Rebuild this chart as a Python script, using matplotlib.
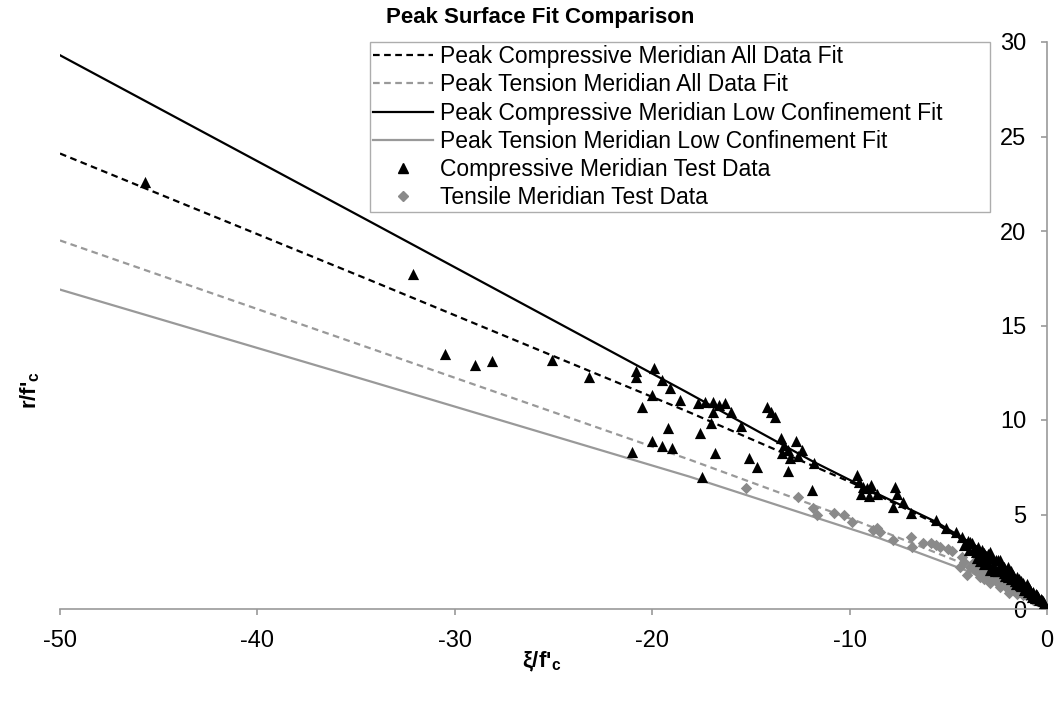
import matplotlib
matplotlib.use("Agg")
import matplotlib.pyplot as plt
from matplotlib.lines import Line2D

plt.rcParams['font.family'] = ['Liberation Sans', 'DejaVu Sans']
plt.rcParams['axes.unicode_minus'] = False

# ---------------------------------------------------------------------------
# Data
# ---------------------------------------------------------------------------
# fit curves, sampled along each line
comp_all_x = [-50, -34.3, -18.1, -9.6, -5.6, -3.0, -1.0, 0.0]
comp_all_y = [24.1, 17.4, 10.4, 6.55, 4.5, 2.8, 1.2, 0.1]

tens_all_x = [-50, -34.3, -18.1, -9.5, -4.0, -2.0, 0.0]
tens_all_y = [19.5, 13.8, 7.9, 4.6, 2.3, 1.25, 0.0]

comp_low_x = [-50, -34.3, -18.3, -11.85, -8.6, -5.6, -3.0, -1.0, 0.0]
comp_low_y = [29.3, 20.5, 11.5, 7.8, 6.1, 4.6, 2.95, 1.25, 0.0]

tens_low_x = [-50, -34.3, -18.1, -8.5, -4.0, -2.0, 0.0]
tens_low_y = [16.9, 12.05, 7.0, 3.75, 2.0, 1.1, 0.0]

# compressive meridian test data
comp_x = [-45.7, -32.1, -30.5, -29.0, -28.1, -25.1, -23.2, -21.0, -20.8, -20.8,
          -20.5, -20.0, -20.0, -19.9, -19.5, -19.5, -19.2, -19.1, -19.0, -18.6,
          -17.7, -17.3, -16.9, -16.6, -16.3, -16.9, -16.0, -17.0, -15.5, -17.6,
          -16.8, -15.1, -14.7, -17.5, -14.2, -14.0, -13.8, -13.5, -13.3, -13.1,
          -12.7, -12.4, -13.4, -13.0, -12.6, -13.1, -11.8, -11.9, -9.6, -9.5,
          -9.1, -8.9, -9.4, -9.0, -8.6, -9.3, -7.7, -7.6, -7.8, -7.3,
          -6.9, -5.6, -5.1, -4.6, -4.3, -3.9, -3.5, -3.2, -2.9, -2.5,
          -2.2, -1.85, -1.5, -1.2, -0.85, -0.5, -0.25, -3.2, -2.9,
          -4.2, -4.0, -3.8, -3.6, -3.4, -3.3, -3.1, -3.0, -2.8, -2.7,
          -2.6, -2.5, -2.4, -2.3, -2.2, -2.1, -2.0, -2.0, -1.9, -1.8,
          -1.8, -1.7, -1.6, -1.45, -1.4, -1.3, -1.3, -1.1, -1.0, -0.95,
          -0.8, -0.7, -0.6, -0.4, -0.3, -0.15,
          -3.7, -3.4, -3.0, -2.75, -2.45, -2.15, -1.75, -1.55, -1.35, -1.15,
          -0.9, -0.75, -0.55, -0.45, -0.2, -3.95, -3.55, -2.65]
comp_y = [22.6, 17.7, 13.5, 12.9, 13.1, 13.2, 12.3, 8.3, 12.6, 12.3,
          10.7, 11.3, 8.9, 12.75, 12.1, 8.6, 9.6, 11.7, 8.5, 11.05,
          10.9, 10.95, 10.95, 10.8, 10.9, 10.4, 10.4, 9.85, 9.7, 9.3,
          8.25, 8.0, 7.5, 7.0, 10.7, 10.4, 10.15, 9.05, 8.7, 8.4,
          8.9, 8.4, 8.25, 8.0, 8.1, 7.3, 7.7, 6.3, 7.1, 6.7,
          6.4, 6.55, 6.1, 6.0, 6.1, 6.45, 6.45, 6.1, 5.4, 5.65,
          5.1, 4.7, 4.3, 4.1, 3.8, 3.55, 3.3, 2.95, 3.0, 2.6,
          2.2, 1.9, 1.7, 1.4, 1.0, 0.75, 0.5, 2.4, 2.05,
          3.4, 3.6, 3.5, 3.0, 2.8, 3.1, 2.7, 2.9, 2.7, 2.2,
          2.6, 2.0, 2.6, 2.2, 1.9, 2.0, 1.7, 2.2, 1.9, 1.6,
          2.0, 1.8, 1.5, 1.35, 1.6, 1.2, 1.5, 1.1, 1.3, 0.9,
          0.8, 0.9, 0.6, 0.5, 0.55, 0.3,
          3.2, 2.55, 2.45, 2.35, 2.2, 1.75, 1.75, 1.3, 1.25, 1.0,
          1.1, 0.65, 0.8, 0.65, 0.4, 3.1, 2.7, 2.0]

# tensile meridian test data
tens_x = [-15.25, -12.6, -11.85, -11.65, -10.8, -10.3, -9.9, -8.6, -8.8, -8.45,
          -7.8, -6.9, -6.85, -6.3, -5.9, -5.6, -5.4, -4.8, -4.3, -5.0,
          -4.4, -4.05, -3.9, -3.7, -3.55, -3.4, -3.3, -3.1, -2.9, -2.8,
          -2.7, -2.6, -2.4, -2.3, -2.2, -2.05, -1.95, -1.8, -1.7, -1.6,
          -1.4, -1.3, -1.2, -1.05, -0.9, -0.8, -0.6, -0.5,
          -3.6, -3.2, -2.5, -2.1, -1.5, -1.15, -0.7, -4.2, -3.0, -1.9]
tens_y = [6.4, 5.95, 5.35, 5.0, 5.1, 4.97, 4.6, 4.3, 4.2, 4.1,
          3.65, 3.8, 3.3, 3.5, 3.5, 3.4, 3.3, 3.05, 2.75, 3.2,
          2.2, 1.8, 2.2, 2.5, 2.4, 1.7, 2.1, 1.9, 1.4, 1.8,
          1.7, 1.5, 1.15, 1.6, 1.55, 1.4, 1.1, 1.3, 1.0, 1.2,
          0.9, 1.05, 0.75, 0.75, 0.85, 0.6, 0.55, 0.4,
          2.0, 1.6, 1.35, 1.15, 0.8, 0.95, 0.45, 2.5, 1.65, 0.85]

labels = ["Peak Compressive Meridian All Data Fit",
          "Peak Tension Meridian All Data Fit",
          "Peak Compressive Meridian Low Confinement Fit",
          "Peak Tension Meridian Low Confinement Fit",
          "Compressive Meridian Test Data",
          "Tensile Meridian Test Data"]

# ---------------------------------------------------------------------------
# Figure
# ---------------------------------------------------------------------------
W, H = 1063, 702
fig = plt.figure(figsize=(W / 100, H / 100), dpi=100)
ax = fig.add_axes([60 / W, 1 - 609 / H, (1047 - 60) / W, (609 - 42) / H])

grey = '#999999'
lw = 1.6
h1, = ax.plot(comp_all_x, comp_all_y, color='black', lw=lw, dashes=(3, 2), label=labels[0])
h2, = ax.plot(tens_all_x, tens_all_y, color=grey, lw=lw, dashes=(3, 2), label=labels[1])
h3, = ax.plot(comp_low_x, comp_low_y, color='black', lw=lw, label=labels[2])
h4, = ax.plot(tens_low_x, tens_low_y, color=grey, lw=lw, label=labels[3])
ax.scatter(tens_x, tens_y, marker='D', s=34, color='#8a8a8a', lw=0, zorder=3)
ax.scatter(comp_x, comp_y, marker='^', s=65, color='black', lw=0, zorder=4)

ax.set_xlim(-50, 0)
ax.set_ylim(0, 30)
ax.set_xticks([-50, -40, -30, -20, -10, 0])
ax.set_yticks([0, 5, 10, 15, 20, 25, 30])

for s in ['top', 'right']:
    ax.spines[s].set_visible(False)
ax.spines['left'].set_position(('data', 0))
for s in ['left', 'bottom']:
    ax.spines[s].set_color(grey)
    ax.spines[s].set_linewidth(1.2)
ax.tick_params(axis='both', direction='out', length=4, width=1.2, color=grey,
               labelsize=17)
ax.tick_params(axis='x', pad=11)
ax.tick_params(axis='y', pad=11)

fig.text(540 / W, 1 - 18 / H, "Peak Surface Fit Comparison", ha='center', va='center',
         fontsize=16, fontweight='bold')
fig.text(542 / W, 1 - 662 / H, "ξ/f'$_\\mathregular{c}$", ha='center', va='center',
         fontsize=16, fontweight='bold')
fig.text(30 / W, 1 - 390 / H, "r/f'$_\\mathregular{c}$", ha='center', va='center',
         fontsize=16, fontweight='bold', rotation=90)

m1 = Line2D([], [], ls='none', marker='^', color='black', markersize=7)
m2 = Line2D([], [], ls='none', marker='D', color='#8a8a8a', markersize=5)
leg = ax.legend([h1, h2, h3, h4, m1, m2], labels, loc='upper left', mode='expand',
                bbox_to_anchor=(370 / W, 1 - 213 / H, 620 / W, 171 / H),
                bbox_transform=fig.transFigure,
                fontsize=16.5, frameon=True, fancybox=False, edgecolor=grey,
                handlelength=2.6, handletextpad=0.3, labelspacing=0.22,
                borderpad=0.15, borderaxespad=0)
leg.get_frame().set_linewidth(1.0)

fig.savefig("out.png", dpi=100)
